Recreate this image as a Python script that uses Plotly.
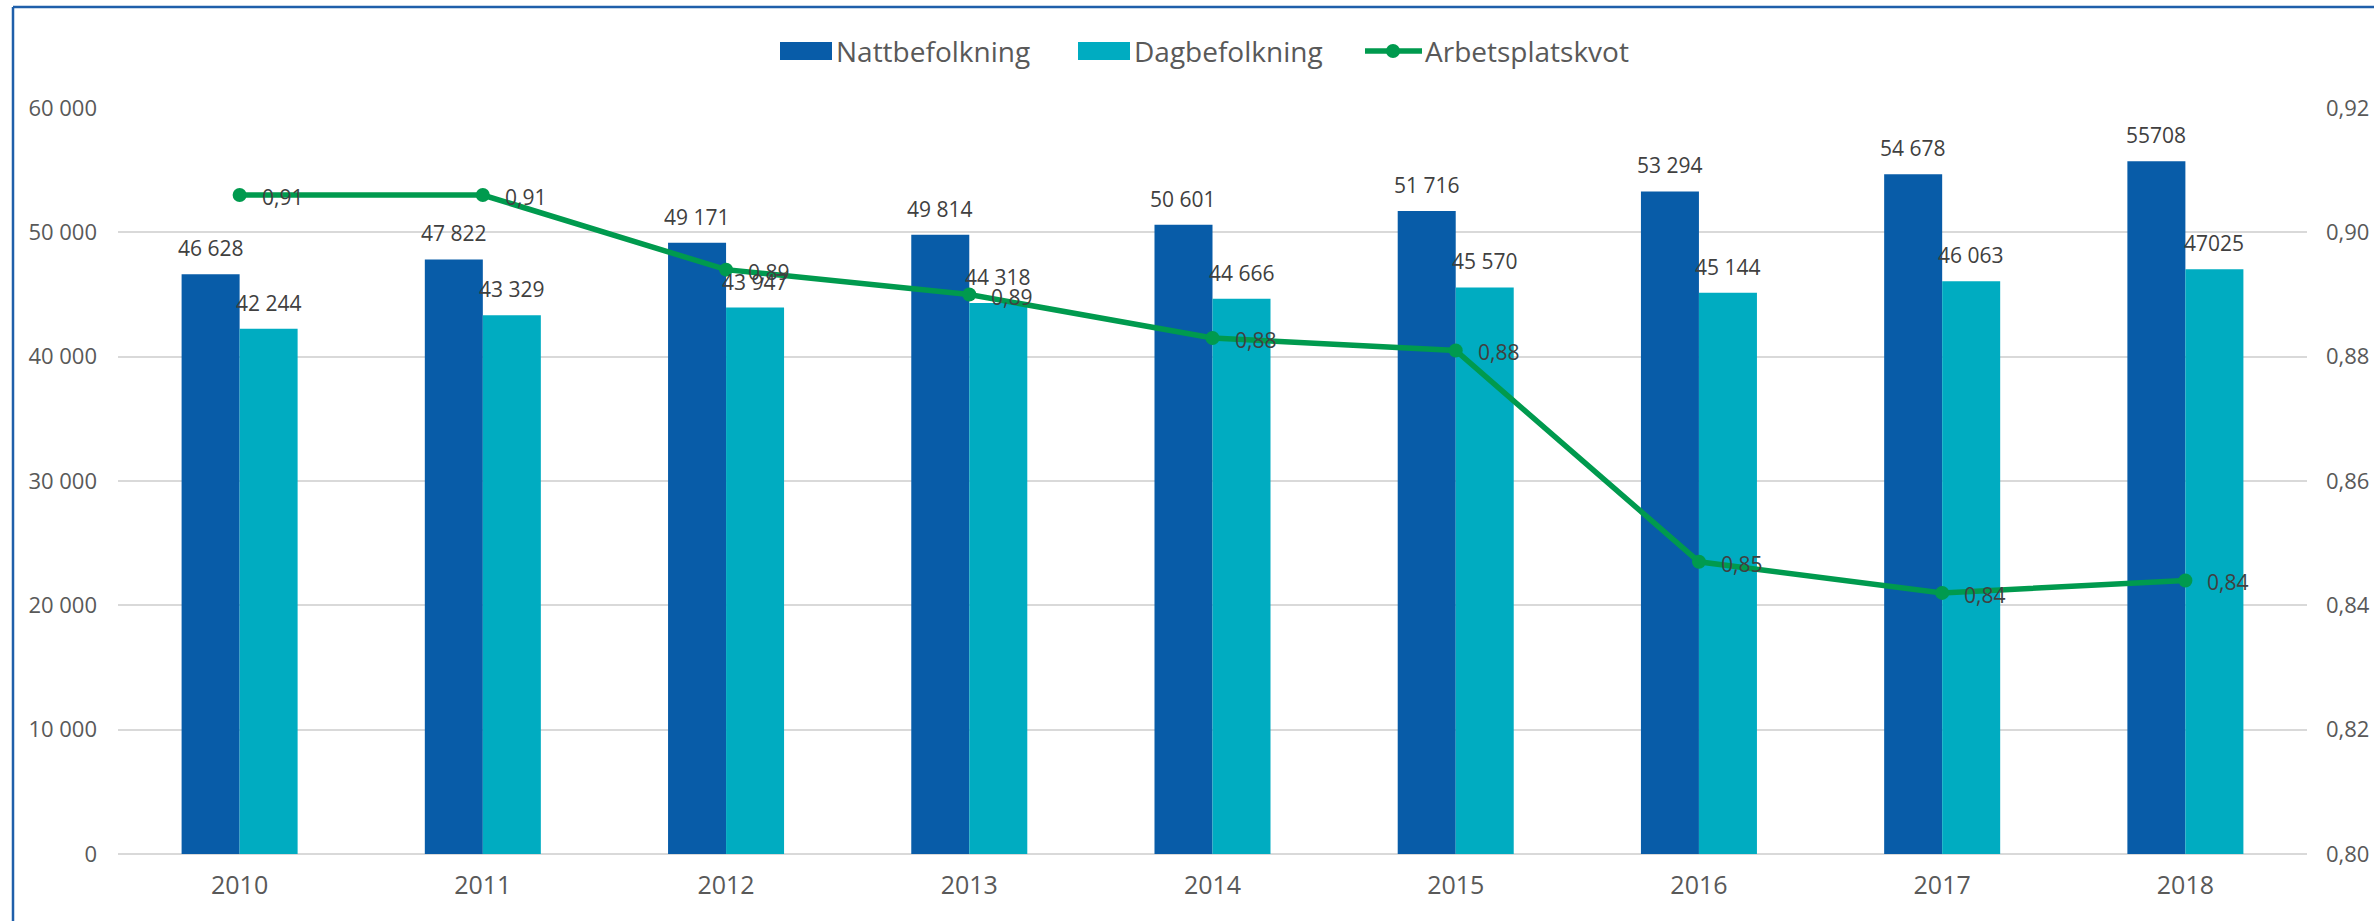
import plotly.graph_objects as go

years = ["2010", "2011", "2012", "2013", "2014", "2015", "2016", "2017", "2018"]
natt = [46628, 47822, 49171, 49814, 50601, 51716, 53294, 54678, 55708]
dag = [42244, 43329, 43947, 44318, 44666, 45570, 45144, 46063, 47025]
kvot = [0.906, 0.906, 0.894, 0.890, 0.883, 0.881, 0.847, 0.842, 0.844]

natt_labels = ["46 628", "47 822", "49 171", "49 814", "50 601", "51 716", "53 294", "54 678", "55708"]
dag_labels = ["42 244", "43 329", "43 947", "44 318", "44 666", "45 570", "45 144", "46 063", "47025"]
kvot_labels = ["0,91", "0,91", "0,89", "0,89", "0,88", "0,88", "0,85", "0,84", "0,84"]

FONT = "Open Sans"
TXT = "#595959"
LBL = "#404040"
GRID = "#D9D9D9"
C_NATT = "#085CA8"
C_DAG = "#00ACC1"
C_KVOT = "#009A4E"

W, H = 2374, 921
L, R, T, B = 118, 67, 108, 67
pw, ph = W - L - R, H - T - B
BARGAP = 0.523
half_bar = pw / len(years) * (1 - BARGAP) / 4  # offset of a bar centre from the group centre


def px(x):  # pixel -> paper x
    return (x - L) / pw


def py(y):  # pixel -> paper y
    return (H - B - y) / ph


fig = go.Figure()

fig.add_trace(go.Bar(x=years, y=natt, name="Nattbefolkning",
                     marker=dict(color=C_NATT, line=dict(width=0))))
fig.add_trace(go.Bar(x=years, y=dag, name="Dagbefolkning",
                     marker=dict(color=C_DAG, line=dict(width=0))))
fig.add_trace(go.Scatter(
    x=years, y=kvot, name="Arbetsplatskvot", yaxis="y2",
    mode="lines+markers",
    line=dict(color=C_KVOT, width=5.5),
    marker=dict(color=C_KVOT, size=14),
    cliponaxis=False,
))

# data labels (x as category index)
lblfont = dict(family=FONT, size=21, color=LBL)
for i, (v, t) in enumerate(zip(natt, natt_labels)):
    fig.add_annotation(x=i, y=v, text=t, showarrow=False, xshift=-half_bar,
                       yanchor="bottom", yshift=10, font=lblfont)
for i, (v, t) in enumerate(zip(dag, dag_labels)):
    fig.add_annotation(x=i, y=v, text=t, showarrow=False, xshift=half_bar,
                       yanchor="bottom", yshift=10, font=lblfont)
for i, (v, t) in enumerate(zip(kvot, kvot_labels)):
    fig.add_annotation(x=i, y=v, yref="y2", text=t, showarrow=False, xanchor="left",
                       xshift=20, yshift=-2, font=lblfont)

# legend drawn by hand (Excel-style wide swatches)
legfont = dict(family=FONT, size=28, color=TXT)
for x0, col, name in [(780, C_NATT, "Nattbefolkning"), (1078, C_DAG, "Dagbefolkning")]:
    fig.add_shape(type="rect", xref="paper", yref="paper", x0=px(x0), x1=px(x0 + 52),
                  y0=py(60), y1=py(42), fillcolor=col, line=dict(width=0))
    fig.add_annotation(xref="paper", yref="paper", x=px(x0 + 54), y=py(51), text=name,
                       showarrow=False, xanchor="left", yanchor="middle", font=legfont)
fig.add_shape(type="line", xref="paper", yref="paper", x0=px(1365), x1=px(1422),
              y0=py(51), y1=py(51), line=dict(color=C_KVOT, width=5.5))
fig.add_shape(type="circle", xref="paper", yref="paper", x0=px(1386), x1=px(1400),
              y0=py(58), y1=py(44), fillcolor=C_KVOT, line=dict(width=0))
fig.add_annotation(xref="paper", yref="paper", x=px(1423), y=py(51), text="Arbetsplatskvot",
                   showarrow=False, xanchor="left", yanchor="middle", font=legfont)

# frame (cut off on right and bottom as in the original)
fig.add_shape(type="line", xref="paper", yref="paper",
              x0=px(13), x1=px(13), y0=py(7), y1=py(H + 20), line=dict(color="#1F5FAA", width=2.5))
fig.add_shape(type="line", xref="paper", yref="paper",
              x0=px(13), x1=px(W + 20), y0=py(7), y1=py(7), line=dict(color="#1F5FAA", width=2.5))

fig.update_layout(
    width=W, height=H,
    margin=dict(l=L, r=R, t=T, b=B),
    paper_bgcolor="white", plot_bgcolor="white",
    separators=", ",
    barmode="group", bargap=BARGAP, bargroupgap=0,
    font=dict(family=FONT, color=TXT),
    showlegend=False,
    xaxis=dict(type="category", range=[-0.5, len(years) - 0.5], tickfont=dict(size=25, color=TXT),
               showgrid=False, showline=False, ticks="", ticklabelstandoff=14, automargin=False),
    yaxis=dict(range=[0, 60000], dtick=10000, tickformat=",d", showgrid=True, gridcolor=GRID,
               gridwidth=2, zeroline=True, zerolinecolor=GRID, zerolinewidth=2,
               tickfont=dict(size=22, color=TXT), ticklabelstandoff=20, automargin=False),
    yaxis2=dict(range=[0.80, 0.92], dtick=0.02, tickformat=".2f", overlaying="y", side="right",
                showgrid=False, zeroline=False, tickfont=dict(size=22, color=TXT),
                ticklabelstandoff=18, automargin=False),
)

fig.write_html("out.html", config={"displayModeBar": False},
               post_script="document.body.style.margin='0';document.body.style.overflow='hidden';")
